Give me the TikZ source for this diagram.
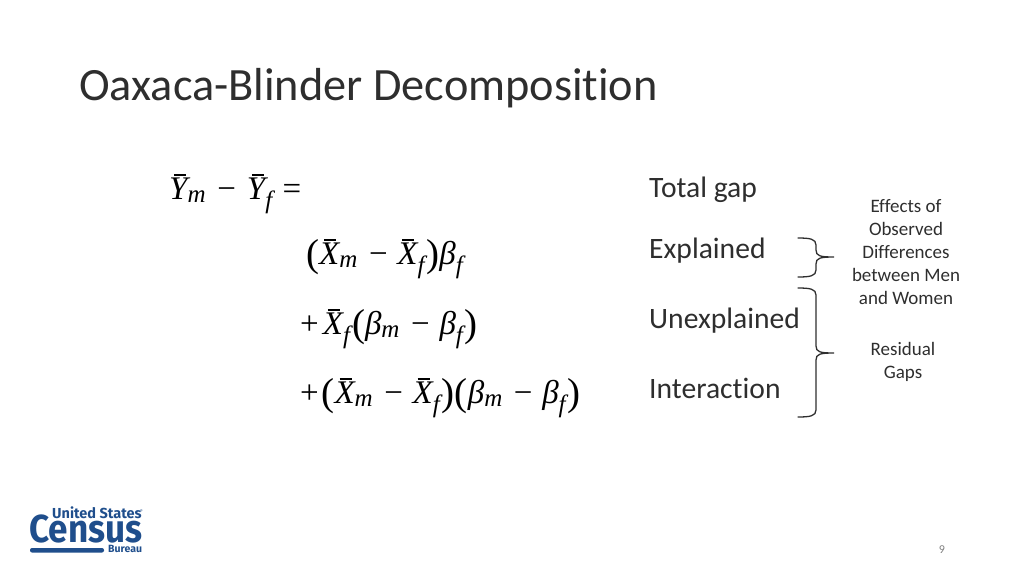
\documentclass[tikz,border=0pt]{standalone}
\usepackage{fontspec}
\setmainfont{Carlito}[Ligatures=NoCommon,NFSSFamily=lcar]
\newfontfamily\logofont{Fira Sans}
\newfontfamily\eqfam{Liberation Serif}[NFSSFamily=lserif]
\DeclareSymbolFont{lsit}{TU}{lserif}{m}{it}
\DeclareSymbolFont{lsrm}{TU}{lserif}{m}{n}
\DeclareSymbolFont{lsup}{TU}{lcar}{m}{n}
\DeclareMathSizes{33}{33}{25}{20}
\Umathchardef\mybeta=7 \symlsit "03B2
\newcommand{\mybar}[1]{\mathord{\hbox{\rlap{\kern5pt\rule[23.5pt]{12pt}{1.2pt}}$#1$}}}
\newcommand{\lpar}{\mathopen{\raisebox{-2.5pt}{\eqfam\fontsize{39}{39}\selectfont(}}}
\newcommand{\rpar}{\mathclose{\raisebox{-2.5pt}{\eqfam\fontsize{39}{39}\selectfont)}}}
\definecolor{titlecol}{HTML}{2E2E2E}
\definecolor{census}{HTML}{1F4E8C}
\tikzset{
  x=1pt,y=-1pt,
  title/.style={anchor=base west,inner sep=0,text=titlecol,font=\fontsize{46.3}{50}\selectfont},
  eqn/.style={anchor=base west,inner sep=0,text=black,font=\fontsize{33}{36}\selectfont},
  lab/.style={anchor=base west,inner sep=0,text=titlecol,font=\fontsize{29.6}{32}\selectfont},
  note/.style={anchor=base,inner sep=0,text=titlecol,font=\fontsize{19}{22}\selectfont},
  brace/.style={draw=titlecol,line width=1.3pt,line cap=round},
  logobig/.style={anchor=base west,inner sep=0,text=census,xscale=.9,font=\logofont\bfseries\fontsize{39}{39}\selectfont},
  logosmall/.style={anchor=base west,inner sep=0,text=census,font=\logofont\bfseries\fontsize{14.5}{15}\selectfont},
}
\begin{document}
\begin{tikzpicture}
\Umathcode`X=7 \symlsit `X
\Umathcode`Y=7 \symlsit `Y
\Umathcode`m=7 \symlsit `m
\Umathcode`f=7 \symlsit `f
\Umathcode`+=2 \symlsrm `+
\Umathcode`-=2 \symlsrm "2212
\Umathcode`==3 \symlsrm `=
\medmuskip=7mu
\scriptspace=2pt
\useasboundingbox (0,0) rectangle (1024,576);
\node[title] (ttl) at (79,100) {Oaxaca-Blinder Decomposition};
\node[eqn] (e1) at (169,199) {$\mybar{Y}_m -\mkern1mu \mybar{Y}_f\mkern1mu =$};
\node[eqn] (e2) at (306,264) {$\lpar\mybar{X}_m - \mybar{X}_f\rpar\mybeta_f$};
\node[eqn] (e3) at (300,334) {$+\,\mybar{X}_f\lpar\mybeta_m - \mybeta_f\rpar$};
\node[eqn] (e4) at (300,403) {$+\mkern2mu\lpar\mybar{X}_m - \mybar{X}_f\rpar\lpar\mybeta_m - \mybeta_f\rpar$};
\node[lab] (l1) at (649,197.5) {Total gap};
\node[lab] (l2) at (649,258.5) {Explained};
\node[lab] (l3) at (649,328.5) {Unexplained};
\node[lab] (l4) at (649,398.5) {Interaction};
\node[note] (n1) at (906,212.7) {Effects of};
\node[note] (n2) at (906,235.7) {Observed};
\node[note] (n3) at (906,258.7) {Differences};
\node[note] (n4) at (906,281.7) {between Men};
\node[note] (n5) at (906,304.7) {and Women};
\node[note] (n6) at (903,355.7) {Residual};
\node[note] (n7) at (903,378.7) {Gaps};
\draw[brace] (798,238) .. controls (810,238) and (816,239) .. (816,245) -- (816,250) .. controls (816,256) and (820,257) .. (834,257) .. controls (820,257) and (816,258) .. (816,264) -- (816,270) .. controls (816,276) and (810,277) .. (798,277);
\draw[brace] (798,288) .. controls (810,288) and (816,289) .. (816,295) -- (816,346) .. controls (816,352) and (820,353) .. (834,353) .. controls (820,353) and (816,354) .. (816,360) -- (816,410) .. controls (816,416) and (810,417) .. (798,417);
\node[logosmall] (u) at (52,518) {United States};
\node[anchor=base west,inner sep=0,text=census,font=\fontsize{7}{7}\selectfont] (r) at (140,514) {®};
\node[logobig] (c) at (29,542) {Census};
\fill[census,rounded corners=2pt] (30,548) rectangle (104,552.5);
\node[anchor=base west,inner sep=0,text=census,font=\logofont\bfseries\fontsize{10.5}{11}\selectfont] (b) at (108,552.5) {Bureau};
\node[anchor=base,inner sep=0,text=gray,font=\fontsize{12}{14}\selectfont] (p) at (942,553) {9};
\end{tikzpicture}
\end{document}
